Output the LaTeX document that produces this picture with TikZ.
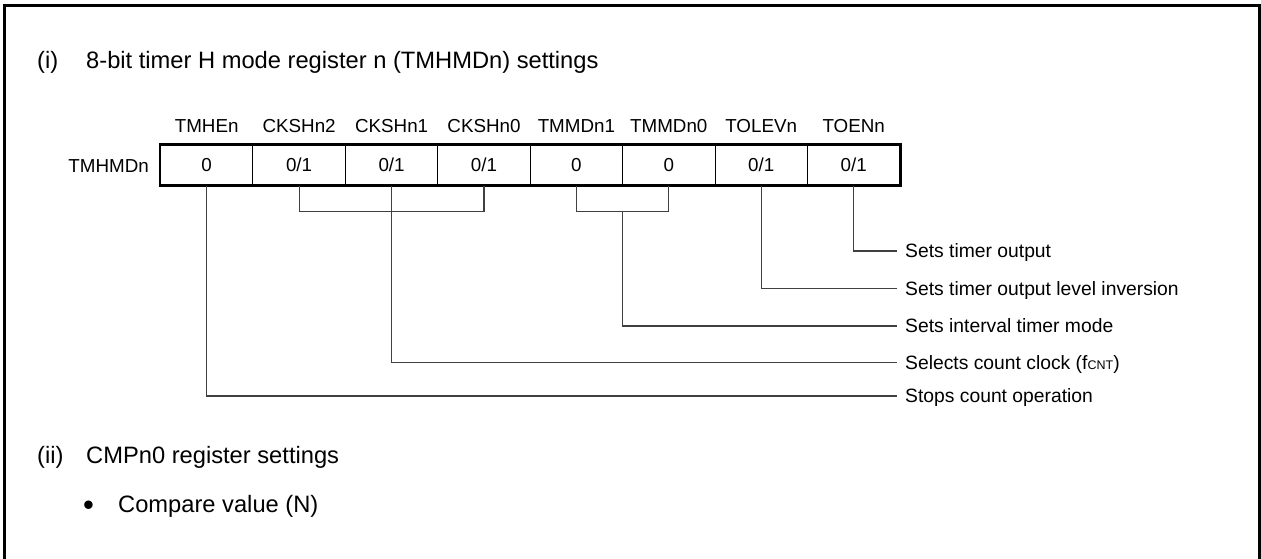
\documentclass[tikz,border=0pt]{standalone}
\usepackage{fontspec}
\setmainfont{Liberation Sans}
\usetikzlibrary{positioning}

\begin{document}
\begin{tikzpicture}[x=1pt, y=-1pt, font=\fontsize{18.8}{22}\selectfont,
        cell/.style={draw, line width=1pt, minimum width=92.4pt,
                     minimum height=40pt, inner sep=0pt},
        bitname/.style={anchor=base, inner sep=0pt},
        heading/.style={anchor=base west, inner sep=0pt,
                        font=\fontsize{23.7}{28}\selectfont},
        note/.style={anchor=west, inner sep=0pt, text height=13.6pt,
                     text depth=0pt, font=\fontsize{19.3}{22}\selectfont},
        wire/.style={line width=1.2pt, draw=black!75}]
        \clip (0,0) rectangle (1261,558);
        %% outer frame (its lower edge lies below the page)
        \draw[line width=3pt] (4.5,5) rectangle (1259.5,600);
        %% (i) heading
        \node[heading] (ti) at (37,68) {(i)};
        \node[heading] (tt) at (86,68) {8-bit timer H mode register n (TMHMDn) settings};
        %% register cells
        \node[cell] (b7) at (206.7,165) {0};
        \node[cell] (b6) at (299.1,165) {0/1};
        \node[cell] (b5) at (391.6,165) {0/1};
        \node[cell] (b4) at (484.0,165) {0/1};
        \node[cell] (b3) at (576.4,165) {0};
        \node[cell] (b2) at (668.8,165) {0};
        \node[cell] (b1) at (761.2,165) {0/1};
        \node[cell] (b0) at (853.7,165) {0/1};
        \draw[line width=2.6pt] (b7.north west) rectangle (b0.south east);
        \node[anchor=base east, inner sep=0pt] (reg) at (149,172) {TMHMDn};
        %% bit names
        \node[bitname] (n7) at (206.7,132) {TMHEn};
        \node[bitname] (n6) at (299.1,132) {CKSHn2};
        \node[bitname] (n5) at (391.6,132) {CKSHn1};
        \node[bitname] (n4) at (484.0,132) {CKSHn0};
        \node[bitname] (n3) at (576.4,132) {TMMDn1};
        \node[bitname] (n2) at (668.8,132) {TMMDn0};
        \node[bitname] (n1) at (761.2,132) {TOLEVn};
        \node[bitname] (n0) at (853.7,132) {TOENn};
        %% descriptions
        \node[note] (d0) at (905,251) {Sets timer output};
        \node[note] (d1) at (905,288.5) {Sets timer output level inversion};
        \node[note] (d2) at (905,326) {Sets interval timer mode};
        \node[note] (d3) at (905,362.5) {Selects count clock (f{\fontsize{12.5}{14}\selectfont CNT})};
        \node[note] (d4) at (905,396) {Stops count operation};
        %% brackets and leader lines
        \draw[wire] (b6.south) -- ++(0,26) -| (b4.south);
        \draw[wire] (b3.south) -- ++(0,26) -| (b2.south);
        \coordinate (tmmd) at (622.6,211);
        \draw[wire] (b0.south) |- ([xshift=-8pt]d0.west);
        \draw[wire] (b1.south) |- ([xshift=-8pt]d1.west);
        \draw[wire] (tmmd) |- ([xshift=-8pt]d2.west);
        \draw[wire] (b5.south) |- ([xshift=-8pt]d3.west);
        \draw[wire] (b7.south) |- ([xshift=-8pt]d4.west);
        %% (ii) heading
        \node[heading] (si) at (37,463) {(ii)};
        \node[heading] (st) at (86,463) {CMPn0 register settings};
        \node[heading, font=\fontsize{31}{34}\selectfont] (dot) at (83,515) {•};
        \node[heading] (cv) at (118,512) {Compare value (N)};
\end{tikzpicture}
\end{document}
